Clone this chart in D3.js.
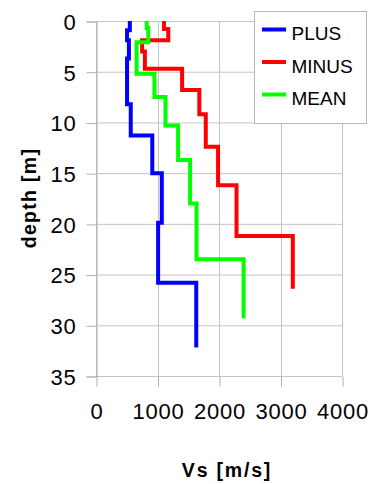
<!DOCTYPE html>
<html>
<head>
<meta charset="utf-8">
<script src="https://cdn.jsdelivr.net/npm/d3@7"></script>
<style>
  html, body { margin: 0; padding: 0; background: #fff; }
  svg { display: block; font-family: "Liberation Sans", Arial, sans-serif; }
</style>
</head>
<body>
<svg id="chart" width="377" height="484"></svg>
<script>
// ---- data ----
const seriesNames = ["PLUS", "MINUS", "MEAN"];
const seriesColors = ["#0000ff", "#ff0000", "#00ff00"];
// layer bottom depths [m] and Vs [m/s] per layer (top of first layer = 0)
const plusBottoms = [0.9, 1.9, 3.7, 8.2, 11.3, 15.0, 19.9, 25.8, 32.2];
const plusVs      = [550, 505, 535, 505, 565, 915, 1070, 1010, 1630];
const minusBottoms = [0.8, 1.9, 3.0, 4.7, 6.8, 9.2, 12.4, 16.2, 21.2, 26.4];
const minusVs      = [1105, 1175, 750, 795, 1400, 1680, 1785, 1985, 2285, 3200];
const meanBottoms = [0.7, 2.1, 5.2, 7.5, 10.3, 13.7, 18.0, 23.5, 29.3];
const meanVs      = [825, 850, 660, 950, 1130, 1335, 1530, 1635, 2400];
const xTicks = [0, 1000, 2000, 3000, 4000];
const yTicks = [0, 5, 10, 15, 20, 25, 30, 35];

const series = [
  { name: seriesNames[0], color: seriesColors[0], bottoms: plusBottoms, vs: plusVs },
  { name: seriesNames[1], color: seriesColors[1], bottoms: minusBottoms, vs: minusVs },
  { name: seriesNames[2], color: seriesColors[2], bottoms: meanBottoms, vs: meanVs }
];

// ---- layout ----
const L = 96, R = 342, T = 21, B = 376;
const svg = d3.select("#chart");
const x = d3.scaleLinear().domain([0, 4000]).range([L, R]);
const y = d3.scaleLinear().domain([0, 35]).range([T, B]);
const gridColor = "#c4c4c4";

// grid
svg.append("g").selectAll("line.h").data(yTicks).join("line")
  .attr("x1", L).attr("x2", R)
  .attr("y1", d => y(d) + 0.5).attr("y2", d => y(d) + 0.5)
  .attr("stroke", gridColor).attr("stroke-width", 1);
svg.append("g").selectAll("line.v").data(xTicks).join("line")
  .attr("x1", d => Math.round(x(d)) + 0.5).attr("x2", d => Math.round(x(d)) + 0.5)
  .attr("y1", T).attr("y2", B)
  .attr("stroke", gridColor).attr("stroke-width", 1);

// axes
const yAxis = d3.axisLeft(y).tickValues(yTicks).tickSize(10).tickPadding(10).tickFormat(d3.format("d"));
const gy = svg.append("g").attr("transform", `translate(${L + 0.5},0.5)`).call(yAxis);
const xAxis = d3.axisBottom(x).tickValues(xTicks).tickSize(10).tickPadding(17).tickFormat(d3.format("d"));
const gx = svg.append("g").attr("transform", `translate(0.5,${B + 0.5})`).call(xAxis);
[gx, gy].forEach(g => {
  g.select(".domain").attr("stroke", "#b0b0b0");
  g.selectAll(".tick line").attr("stroke", "#b0b0b0");
  g.selectAll(".tick text")
    .attr("fill", "#000")
    .style("font-family", '"Liberation Sans", Arial, sans-serif')
    .style("font-size", "22px")
    .style("letter-spacing", "0.8px");
});
gy.selectAll(".tick text").attr("dy", "0.36em");
gx.selectAll(".tick text").attr("dy", "0.72em");
gx.select(".domain").remove();

// axis titles
svg.append("text")
  .attr("transform", `translate(36,198) rotate(-90)`)
  .attr("text-anchor", "middle")
  .style("font-weight", "bold").style("font-size", "19.5px").style("letter-spacing", "1.3px")
  .text("depth [m]");
svg.append("text")
  .attr("x", 227).attr("y", 477)
  .attr("text-anchor", "middle")
  .style("font-weight", "bold").style("font-size", "19.5px").style("letter-spacing", "1.8px")
  .text("Vs [m/s]");

// step profiles
function stepPoints(s) {
  const pts = [];
  let top = 0;
  s.vs.forEach((v, i) => {
    pts.push([x(v), y(top)]);
    pts.push([x(v), y(s.bottoms[i])]);
    top = s.bottoms[i];
  });
  return pts;
}
const line = d3.line();
svg.append("g").selectAll("path.s").data(series).join("path")
  .attr("d", d => line(stepPoints(d)))
  .attr("fill", "none")
  .attr("stroke", d => d.color)
  .attr("stroke-width", 4)
  .attr("stroke-linejoin", "miter")
  .attr("stroke-linecap", "butt");

// legend
const lg = svg.append("g");
lg.append("rect").attr("x", 254.5).attr("y", 11.5).attr("width", 112).attr("height", 112)
  .attr("fill", "#fff").attr("stroke", "#b8b8b8").attr("stroke-width", 1);
const rows = lg.selectAll("g.row").data(series).join("g")
  .attr("transform", (d, i) => `translate(0,${29.5 + i * 32.5})`);
rows.append("line").attr("x1", 262).attr("x2", 286).attr("y1", 0).attr("y2", 0)
  .attr("stroke", d => d.color).attr("stroke-width", 4);
rows.append("text").attr("x", 291.5).attr("y", 4).attr("dy", "0.36em")
  .style("font-size", "19px")
  .text(d => d.name);
</script>
</body>
</html>
